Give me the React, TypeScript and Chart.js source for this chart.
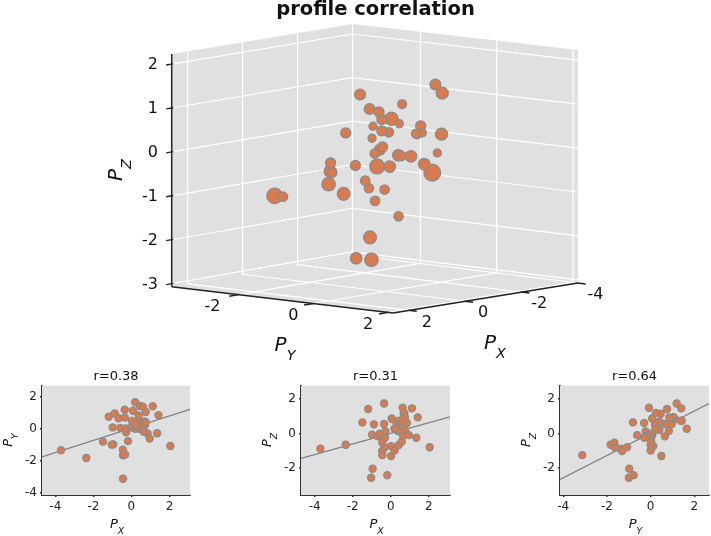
import React, { useEffect, useRef } from "react";
import { Chart, registerables } from "chart.js";

Chart.register(...registerables);

// Read values (P_X, P_Y, P_Z and a per-point size value)
const valuesPX = [-3.7, -2.37, -1.49, -1.19, -0.98, -0.88, -0.95, -1.03, -0.68, -0.58, -0.35, -0.35, -0.28, -0.3, -0.44, -0.33, -0.45, -0.44, -0.18, 0.05, 0.08, 0.02, 0.02, 0.2, 0.42, 0.58, 0.2, 0.85, 0.3, 0.5, 0.58, 0.63, 0.68, 0.72, 0.75, 0.75, 0.65, 0.96, 1.12, 1.42, 1.35, 2.05, 0.44, 0.6, 0.38, 0.23];
const valuesPY = [-1.35, -1.83, -0.81, 0.75, 0.08, 0.96, -0.98, -1.0, 0.65, 0.04, 1.19, 0.7, -0.23, 0.02, -1.66, -1.62, -1.31, -3.13, -0.78, 0.07, 1.12, 0.12, 0.49, 0.0, 0.0, 0.02, 1.65, -0.3, 0.44, 0.4, 0.2, -0.08, 0.46, 0.24, 1.05, 0.4, -0.19, -0.62, 1.4, 0.85, -0.29, -1.08, 1.42, 1.38, 0.83, 0.22];
const valuesPZ = [-0.88, -0.65, 0.63, 1.4, -0.08, 0.52, -2.03, -2.55, -0.17, -0.02, 1.72, 0.54, 0.11, -0.25, -0.54, -0.82, -1.02, -1.25, -2.4, 0.86, 0.82, -0.73, -1.3, -0.98, -0.67, -0.48, 0.27, 0.6, 0.63, 0.68, 0.5, 1.47, 1.13, 1.18, 0.93, 0.19, -0.15, -0.1, 1.44, 0.92, -0.25, -0.8, 0.73, 0.72, 0.14, 0.27];
const valuesSize = [8.7, 7.7, 7, 6.3, 6, 6.3, 6.7, 7, 6, 6, 5.7, 4.7, 5.7, 6, 6.3, 7, 6.7, 8, 6, 5.3, 5.3, 5, 5, 5, 5, 5, 4.3, 5.3, 5, 5.3, 4.3, 5.7, 5.3, 5.7, 4.3, 5, 5.3, 5.3, 4.7, 4.3, 5, 5, 4.7, 4.7, 5, 5.3];

const ticksPX3D = [-4, -2, 0, 2];
const ticksPY3D = [-2, 0, 2];
const ticksPZ3D = [-3, -2, -1, 0, 1, 2];
const ticksPX = [-4, -2, 0, 2];
const ticksPY = [-4, -2, 0, 2];
const ticksPZ = [-2, 0, 2];

const fitXY = { r: "r=0.38", slope: 0.382, intercept: 0.03 };
const fitXZ = { r: "r=0.31", slope: 0.305, intercept: 0.0 };
const fitYZ = { r: "r=0.64", slope: 0.64, intercept: 0.01 };

// View of the 3D box
const LIM = { x0: -4, x1: 2.58, y0: -3.78, y1: 2.13, z0: -3.07, z1: 2.23 };
const floorCorners = { back: [352, 255], left: [171.7, 286.7], right: [578, 283], front: [393, 313] };
const roofCorners = { back: [352.5, 24], left: [171.7, 54], right: [578, 50], front: [393, 78] };
const markerNudge = { x: -4.5, y: 0.5 };

function project(px: number, py: number, pz: number) {
  const u = (px - LIM.x0) / (LIM.x1 - LIM.x0);
  const v = (py - LIM.y0) / (LIM.y1 - LIM.y0);
  const w = (pz - LIM.z0) / (LIM.z1 - LIM.z0);
  const mix = (c: any, i: number) =>
    (1 - u) * (1 - v) * c.back[i] + u * (1 - v) * c.left[i] + (1 - u) * v * c.right[i] + u * v * c.front[i];
  return {
    x: (1 - w) * mix(floorCorners, 0) + w * mix(roofCorners, 0),
    y: (1 - w) * mix(floorCorners, 1) + w * mix(roofCorners, 1),
  };
}

const PANE = "#e0e0e0";
const GRID = "#ffffff";
const ORANGE = "#d97b4f";
const EDGE = "#8a8a8a";
const FONT = "'DejaVu Sans'";

type Lab = { text: string; sub?: string; x: number; y: number; size: number; rot?: boolean; bold?: boolean; italic?: boolean; align?: CanvasTextAlign };

const textPlugin = {
  id: "texts",
  afterDraw(chart: any, _a: any, opts: any) {
    const ctx = chart.ctx as CanvasRenderingContext2D;
    (opts.items || []).forEach((l: Lab) => {
      ctx.save();
      ctx.translate(l.x, l.y);
      if (l.rot) ctx.rotate(-Math.PI / 2);
      ctx.fillStyle = "#111";
      ctx.textBaseline = "middle";
      const st = (l.bold ? "bold " : "") + (l.italic ? "oblique " : "");
      ctx.font = `${st}${l.size}px ${FONT}`;
      if (l.sub) {
        const w = ctx.measureText(l.text).width;
        const subSize = l.size * 0.72;
        ctx.font = `${st}${subSize}px ${FONT}`;
        const sw = ctx.measureText(l.sub).width;
        const left = -(w + sw) / 2;
        ctx.textAlign = "left";
        ctx.font = `${st}${l.size}px ${FONT}`;
        ctx.fillText(l.text, left, 0);
        ctx.font = `${st}${subSize}px ${FONT}`;
        ctx.fillText(l.sub, left + w, l.size * 0.5);
      } else {
        ctx.textAlign = l.align || "center";
        ctx.fillText(l.text, 0, 0);
      }
      ctx.restore();
    });
  },
};

const paneBgPlugin = {
  id: "paneBg",
  beforeDatasetsDraw(chart: any, _a: any, opts: any) {
    if (!opts.color) return;
    const { ctx, chartArea: c } = chart;
    ctx.save();
    ctx.fillStyle = opts.color;
    ctx.fillRect(c.left, c.top, c.right - c.left, c.bottom - c.top);
    ctx.restore();
  },
};

function line3D(a: number[], b: number[], color: string, width: number, order: number) {
  return {
    type: "scatter",
    data: [project(a[0], a[1], a[2]), project(b[0], b[1], b[2])],
    showLine: true,
    borderColor: color,
    borderWidth: width,
    pointRadius: 0,
    fill: false,
    order,
    clip: false,
  };
}

function quad3D(c: number[][]) {
  return {
    type: "scatter",
    data: c.map((p) => project(p[0], p[1], p[2])),
    showLine: true,
    borderColor: PANE,
    borderWidth: 0,
    backgroundColor: PANE,
    pointRadius: 0,
    fill: "shape",
    order: 10,
    clip: false,
  };
}

function buildMain(canvas: HTMLCanvasElement) {
  const { x0, x1, y0, y1, z0, z1 } = LIM;
  const ds: any[] = [];
  ds.push(quad3D([[x1, y0, z0], [x0, y0, z0], [x0, y1, z0], [x1, y1, z0], [x1, y0, z0]]));
  ds.push(quad3D([[x1, y0, z0], [x0, y0, z0], [x0, y0, z1], [x1, y0, z1], [x1, y0, z0]]));
  ds.push(quad3D([[x0, y0, z0], [x0, y1, z0], [x0, y1, z1], [x0, y0, z1], [x0, y0, z0]]));

  ticksPX3D.forEach((t) => {
    ds.push(line3D([t, y0, z0], [t, y0, z1], GRID, 1.2, 5));
    ds.push(line3D([t, y0, z0], [t, y1, z0], GRID, 1.2, 5));
    ds.push(line3D([t, y1 - 0.02, z0], [t, y1 + 0.2, z0], "#222", 1.5, 3));
  });
  ticksPY3D.forEach((t) => {
    ds.push(line3D([x0, t, z0], [x0, t, z1], GRID, 1.2, 5));
    ds.push(line3D([x0, t, z0], [x1, t, z0], GRID, 1.2, 5));
    ds.push(line3D([x1 - 0.02, t, z0], [x1 + 0.33, t, z0], "#222", 1.5, 3));
  });
  ticksPZ3D.forEach((t) => {
    ds.push(line3D([x1, y0, t], [x0, y0, t], GRID, 1.2, 5));
    ds.push(line3D([x0, y0, t], [x0, y1, t], GRID, 1.2, 5));
    ds.push(line3D([x1 + 0.2, y0, t], [x1 - 0.06, y0, t], "#222", 1.4, 3));
  });
  ds.push(line3D([x1, y0, z0], [x1, y0, z1], "#222", 1.5, 2));
  ds.push(line3D([x1, y0, z0], [x1, y1, z0], "#222", 1.5, 2));
  ds.push(line3D([x1, y1, z0], [x0, y1, z0], "#222", 1.5, 2));

  // far points first, as a 3D view does
  const idx = valuesPX.map((_, i) => i).sort((a, b) => valuesPX[a] + valuesPY[a] - (valuesPX[b] + valuesPY[b]));
  ds.push({
    type: "scatter",
    data: idx.map((i) => {
      const p = project(valuesPX[i], valuesPY[i], valuesPZ[i]);
      return { x: p.x + markerNudge.x, y: p.y + markerNudge.y };
    }),
    backgroundColor: ORANGE,
    borderColor: EDGE,
    borderWidth: 1.3,
    pointRadius: idx.map((i) => valuesSize[i] - 0.3),
    order: 0,
    clip: false,
  });

  const items: Lab[] = [
    { text: "profile correlation", x: 375.5, y: 9.5, size: 19.5, bold: true },
    { text: "P", sub: "Y", x: 285, y: 346, size: 20, italic: true },
    { text: "P", sub: "X", x: 495, y: 344, size: 20, italic: true },
    { text: "P", sub: "Z", x: 117, y: 170, size: 20, italic: true, rot: true },
    ...ticksPZ3D.map((t) => ({ text: String(t), x: 158, y: project(x1, y0, t).y + 1, size: 16, align: "right" as CanvasTextAlign })),
    ...ticksPY3D.map((t) => {
      const p = project(x1, t, z0);
      return { text: String(t), x: p.x - 20 - (t < 0 ? 6 : 0), y: p.y + 12.5, size: 16 };
    }),
    ...ticksPX3D.map((t) => {
      const p = project(t, y1, z0);
      return { text: String(t), x: p.x + 17.5, y: p.y + 12, size: 16 };
    }),
  ];

  return new Chart(canvas, {
    type: "scatter",
    data: { datasets: ds },
    plugins: [textPlugin],
    options: {
      animation: false,
      responsive: false,
      maintainAspectRatio: false,
      events: [],
      layout: { padding: 0, autoPadding: false },
      scales: {
        x: { type: "linear", display: false, min: 0, max: 711 },
        y: { type: "linear", display: false, min: 0, max: 365, reverse: true },
      },
      plugins: { legend: { display: false }, tooltip: { enabled: false }, texts: { items } },
    },
  } as any);
}

type PanelCfg = {
  xs: number[]; ys: number[]; fit: { r: string; slope: number; intercept: number };
  xlim: number[]; ylim: number[]; xticks: number[]; yticks: number[];
  xname: string; yname: string; left: number; right: number;
};

function buildPanel(canvas: HTMLCanvasElement, c: PanelCfg) {
  const W = canvas.width, H = canvas.height;
  const top = 20.7, bottom = 130;
  const items: Lab[] = [
    { text: c.fit.r, x: (c.left + c.right) / 2, y: 11.5, size: 13 },
    { text: "P", sub: c.xname, x: (c.left + c.right) / 2 + 1, y: 160, size: 13, italic: true },
    { text: "P", sub: c.yname, x: c.left - 33, y: 75, size: 13, italic: true, rot: true },
  ];
  const axis = (lim: number[], tv: number[], extra: any) => ({
    type: "linear",
    min: lim[0],
    max: lim[1],
    afterBuildTicks: (s: any) => { s.ticks = tv.map((v) => ({ value: v })); },
    grid: { color: GRID, lineWidth: 1.5, tickColor: "#333", tickLength: 2 },
    border: { display: true, color: "#333", width: 2 },
    ticks: { autoSkip: false, maxRotation: 0, color: "#222", font: { family: FONT, size: 12 }, padding: 3, callback: (v: any) => String(v) },
    ...extra,
  });
  return new Chart(canvas, {
    type: "scatter",
    data: {
      datasets: [
        {
          type: "scatter",
          data: c.xs.map((x, i) => ({ x, y: c.ys[i] })),
          backgroundColor: ORANGE, borderColor: EDGE, borderWidth: 1.2, pointRadius: 3.6, order: 0,
        },
        {
          type: "scatter",
          data: c.xlim.map((x) => ({ x, y: c.fit.slope * x + c.fit.intercept })),
          showLine: true, borderColor: "#808080", borderWidth: 1.2, pointRadius: 0, order: 1,
        },
      ],
    },
    plugins: [paneBgPlugin, textPlugin],
    options: {
      animation: false,
      responsive: false,
      maintainAspectRatio: false,
      events: [],
      layout: { padding: { top, right: W - c.right, left: 0, bottom: 0 }, autoPadding: false },
      scales: {
        x: axis(c.xlim, c.xticks, { afterFit: (s: any) => { s.height = H - bottom; } }),
        y: axis(c.ylim, c.yticks, { afterFit: (s: any) => { s.width = c.left; } }),
      },
      plugins: { legend: { display: false }, tooltip: { enabled: false }, paneBg: { color: PANE }, texts: { items } },
    },
  } as any);
}

export default function App() {
  const mainRef = useRef<HTMLCanvasElement>(null);
  const p1 = useRef<HTMLCanvasElement>(null);
  const p2 = useRef<HTMLCanvasElement>(null);
  const p3 = useRef<HTMLCanvasElement>(null);
  useEffect(() => {
    const charts = [
      buildMain(mainRef.current!),
      buildPanel(p1.current!, { xs: valuesPX, ys: valuesPY, fit: fitXY, xlim: [-4.7, 3.08], ylim: [-4.15, 2.69], xticks: ticksPX, yticks: ticksPY, xname: "X", yname: "Y", left: 42, right: 190 }),
      buildPanel(p2.current!, { xs: valuesPX, ys: valuesPZ, fit: fitXZ, xlim: [-4.72, 3.12], ylim: [-3.54, 2.74], xticks: ticksPX, yticks: ticksPZ, xname: "X", yname: "Z", left: 61, right: 210 }),
      buildPanel(p3.current!, { xs: valuesPY, ys: valuesPZ, fit: fitYZ, xlim: [-4.15, 2.67], ylim: [-3.54, 2.74], xticks: ticksPY, yticks: ticksPZ, xname: "Y", yname: "Z", left: 89, right: 238 }),
    ];
    return () => charts.forEach((c) => c.destroy());
  }, []);
  const abs = (left: number, top: number): React.CSSProperties => ({ position: "absolute", left, top, display: "block" });
  return (
    <div style={{ position: "absolute", left: 0, top: 0, width: 711, height: 536, background: "#fff", overflow: "hidden" }}>
      <canvas ref={mainRef} width={711} height={365} style={abs(0, 0)} />
      <canvas ref={p1} width={240} height={171} style={abs(0, 365)} />
      <canvas ref={p2} width={240} height={171} style={abs(240, 365)} />
      <canvas ref={p3} width={240} height={171} style={abs(471, 365)} />
    </div>
  );
}
